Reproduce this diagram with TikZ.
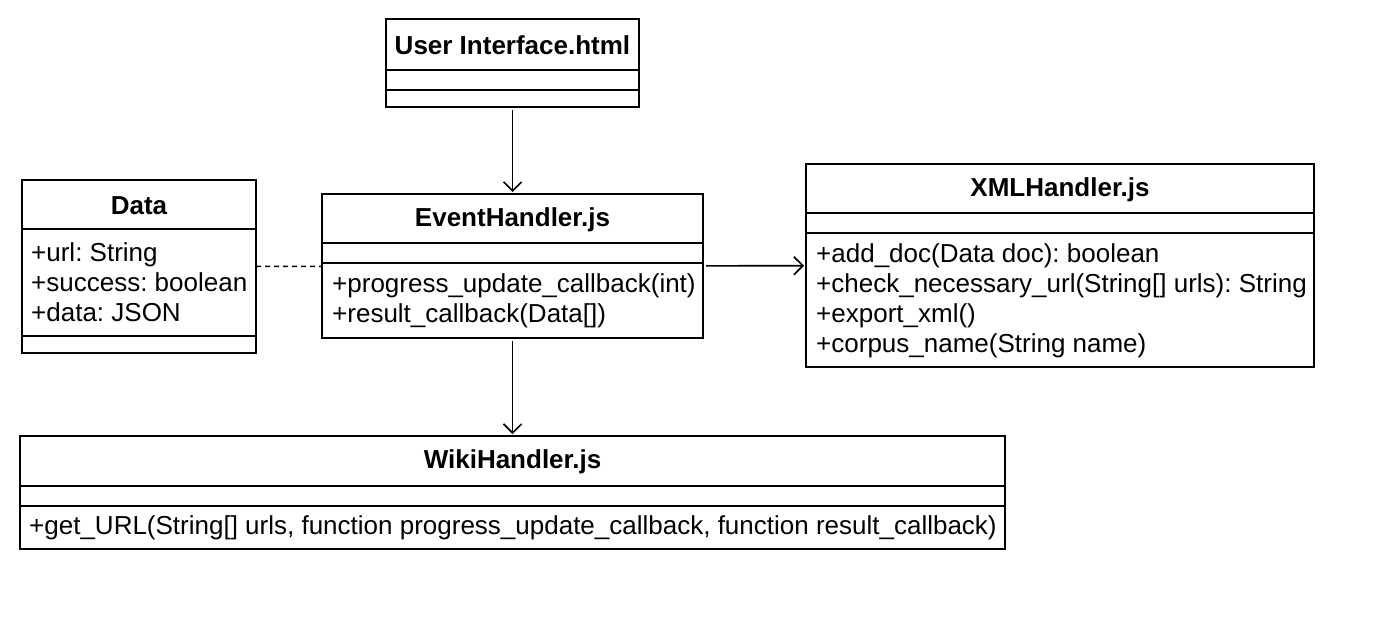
\documentclass[tikz,border=0pt]{standalone}
\usepackage{fontspec}
\setmainfont{Liberation Sans}
\usetikzlibrary{arrows.meta}
\frenchspacing
\begin{document}
\begin{tikzpicture}[x=1pt,y=-1pt,
  cls/.style={draw, line width=1.6pt, inner sep=0, outer sep=0, anchor=north west},
  ttl/.style={font=\fontsize{26}{30}\bfseries\selectfont, inner sep=0},
  mem/.style={font=\fontsize{26}{30}\selectfont, align=left, anchor=west, inner sep=0},
  sepline/.style={line width=1.6pt},
  assoc/.style={line width=1.6pt, -{Straight Barb[length=9pt,width=18pt]}, shorten >=2pt, shorten <=3pt},
  dep/.style={line width=1.5pt, dash pattern=on 5pt off 4pt}]
\useasboundingbox (0,0) rectangle (1394,630);
\fill[white] (0,0) rectangle (1394,630);

% User Interface.html
\node[cls, minimum width=253pt, minimum height=88pt] (ui) at (386,19) {};
\draw[sepline] (ui.west |- 0,70) -- (ui.east |- 0,70);
\draw[sepline] (ui.west |- 0,90) -- (ui.east |- 0,90);
\node[ttl] (uit) at (512.5,45) {User Interface.html};

% Data
\node[cls, minimum width=234pt, minimum height=173pt] (data) at (22,180) {};
\draw[sepline] (data.west |- 0,229) -- (data.east |- 0,229);
\draw[sepline] (data.west |- 0,336) -- (data.east |- 0,336);
\node[ttl] (datat) at (139,206) {Data};
\node[mem] (datam) at (31,282) {+url: String\\+success: boolean\\+data: JSON};

% EventHandler.js
\node[cls, minimum width=381pt, minimum height=144pt] (eh) at (322,194) {};
\draw[sepline] (eh.west |- 0,243) -- (eh.east |- 0,243);
\draw[sepline] (eh.west |- 0,263) -- (eh.east |- 0,263);
\node[ttl] (eht) at (512.5,220) {EventHandler.js};
\node[mem] (ehm) at (332,301) {+progress\_update\_callback(int)\\+result\_callback(Data[])};

% XMLHandler.js
\node[cls, minimum width=508pt, minimum height=203pt] (xml) at (806,164) {};
\draw[sepline] (xml.west |- 0,213) -- (xml.east |- 0,213);
\draw[sepline] (xml.west |- 0,233) -- (xml.east |- 0,233);
\node[ttl] (xmlt) at (1060,190) {XMLHandler.js};
\node[mem] (xmlm) at (816,301) {+add\_doc(Data doc): boolean\\+check\_necessary\_url(String[] urls): String\\+export\_xml()\\+corpus\_name(String name)};

% WikiHandler.js
\node[cls, minimum width=985pt, minimum height=113pt] (wiki) at (20,436) {};
\draw[sepline] (wiki.west |- 0,486) -- (wiki.east |- 0,486);
\draw[sepline] (wiki.west |- 0,506) -- (wiki.east |- 0,506);
\node[ttl] (wikit) at (512.5,462) {WikiHandler.js};
\node[mem] (wikim) at (29,528) {+get\_URL(String[] urls, function progress\_update\_callback, function result\_callback)};

% connectors
\draw[assoc] (ui) -- (eh);
\draw[assoc] (eh) -- (xml);
\draw[assoc] (eh) -- (wiki);
\draw[dep] (data) -- (eh);
\end{tikzpicture}
\end{document}
